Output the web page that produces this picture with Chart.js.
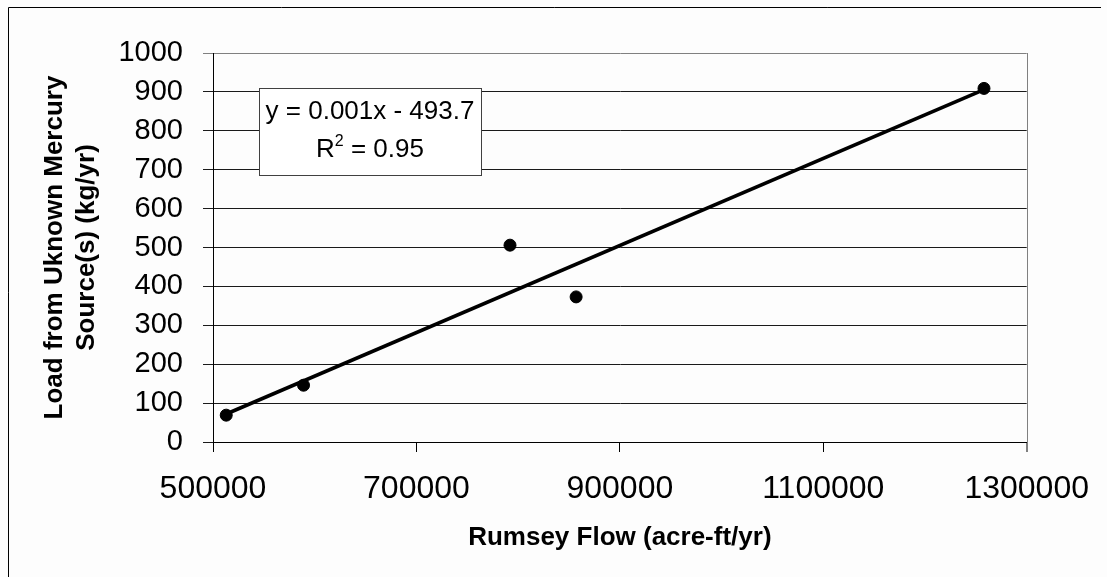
<!DOCTYPE html>
<html>
<head>
    <title>Rumsey Flow vs Unknown Mercury Load</title>
    <style>
        html, body { margin: 0; padding: 0; background: #fdfdfd; }
        #chart-box { width: 1107px; height: 577px; }
    </style>
</head>
<body>
    <div id="chart-box">
        <canvas id="load-chart" width="1107" height="577"></canvas>
    </div>

    <script src="https://cdn.jsdelivr.net/npm/chart.js"></script>

    <script>
        const flowX = [513000, 589000, 792000, 857000, 1258000];
        const loadY = [69, 146, 506, 373, 909];

        // Trendline end points
        const trendX = [513000, 1258000];
        const trendY = [72, 906];

        // Axis ranges
        const xMin = 500000, xMax = 1300000, xStep = 200000;
        const yMin = 0, yMax = 1000, yStep = 100;

        // Texts
        const xTitle = 'Rumsey Flow (acre-ft/yr)';
        const yTitle = ['Load from Uknown Mercury', 'Source(s) (kg/yr)'];
        const eqText = 'y = 0.001x - 493.7';
        const r2Value = '0.95';

        const FONT = '"Liberation Sans", Arial, sans-serif';

        const points = flowX.map((x, i) => ({ x: x, y: loadY[i] }));
        const trend = trendX.map((x, i) => ({ x: x, y: trendY[i] }));

        // Background, outer frame, titles, equation box
        const decorations = {
            id: 'decorations',
            beforeDraw(chart) {
                const ctx = chart.ctx;
                ctx.save();
                ctx.fillStyle = '#fdfdfd';
                ctx.fillRect(0, 0, chart.width, chart.height);
                ctx.strokeStyle = '#000';
                ctx.lineWidth = 1;
                ctx.beginPath();
                ctx.moveTo(8.5, chart.height);
                ctx.lineTo(8.5, 7.5);
                ctx.lineTo(1101, 7.5);
                ctx.stroke();
                ctx.restore();
            },
            beforeDatasetsDraw(chart) {
                // gray right border of the plot area
                const ctx = chart.ctx;
                const a = chart.chartArea;
                ctx.save();
                ctx.strokeStyle = '#808080';
                ctx.lineWidth = 1;
                ctx.beginPath();
                ctx.moveTo(Math.round(a.right) + 0.5, a.top);
                ctx.lineTo(Math.round(a.right) + 0.5, a.bottom + 10);
                ctx.stroke();
                ctx.restore();
            },
            afterDraw(chart) {
                const ctx = chart.ctx;
                const a = chart.chartArea;
                ctx.save();
                ctx.fillStyle = '#000';

                // x axis title
                ctx.font = 'bold 26px ' + FONT;
                ctx.textAlign = 'center';
                ctx.textBaseline = 'alphabetic';
                ctx.fillText(xTitle, (a.left + a.right) / 2, 545);

                // y axis title, two lines
                ctx.save();
                ctx.translate(0, (a.top + a.bottom) / 2);
                ctx.rotate(-Math.PI / 2);
                ctx.fillText(yTitle[0], 0, 62);
                ctx.fillText(yTitle[1], 0, 94);
                ctx.restore();

                // equation box
                const bx = 259, by = 88, bw = 222, bh = 87;
                ctx.fillStyle = '#ffffff';
                ctx.fillRect(bx, by, bw, bh);
                ctx.strokeStyle = '#404040';
                ctx.lineWidth = 1;
                ctx.strokeRect(bx + 0.5, by + 0.5, bw, bh);

                ctx.fillStyle = '#000';
                ctx.font = '26px ' + FONT;
                ctx.textAlign = 'center';
                const cx = bx + bw / 2;
                ctx.fillText(eqText, cx, 119);

                // R² = value
                ctx.textAlign = 'left';
                const big = '26px ' + FONT, small = '16px ' + FONT;
                ctx.font = big;
                const wR = ctx.measureText('R').width;
                const wRest = ctx.measureText(' = ' + r2Value).width;
                ctx.font = small;
                const w2 = ctx.measureText('2').width;
                let x0 = cx - (wR + w2 + wRest) / 2;
                ctx.font = big;
                ctx.fillText('R', x0, 157);
                ctx.font = small;
                ctx.fillText('2', x0 + wR, 146);
                ctx.font = big;
                ctx.fillText(' = ' + r2Value, x0 + wR + w2, 157);
                ctx.restore();
            }
        };

        const ctx = document.getElementById('load-chart').getContext('2d');
        new Chart(ctx, {
            type: 'scatter',
            data: {
                datasets: [
                    {
                        label: 'Load',
                        data: points,
                        backgroundColor: '#000',
                        borderColor: '#000',
                        pointRadius: 6,
                        order: 1
                    },
                    {
                        label: 'Linear trend',
                        type: 'line',
                        data: trend,
                        borderColor: '#000',
                        borderWidth: 3.6,
                        pointRadius: 0,
                        fill: false,
                        order: 2
                    }
                ]
            },
            options: {
                responsive: false,
                animation: false,
                layout: { padding: { top: 53, right: 77, left: 0, bottom: 0 } },
                plugins: {
                    legend: { display: false },
                    tooltip: { enabled: false }
                },
                scales: {
                    x: {
                        type: 'linear',
                        min: xMin,
                        max: xMax,
                        afterFit: scale => { scale.height = 135; },
                        ticks: {
                            stepSize: xStep,
                            color: '#000',
                            padding: 18,
                            maxRotation: 0,
                            font: { family: FONT, size: 32 },
                            callback: v => String(v)
                        },
                        grid: {
                            drawOnChartArea: false,
                            tickLength: 10,
                            color: c => (c.tick && c.tick.value === xMax ? '#808080' : '#000')
                        },
                        border: { color: '#000', width: 1 }
                    },
                    y: {
                        min: yMin,
                        max: yMax,
                        afterFit: scale => { scale.width = 213; },
                        ticks: {
                            stepSize: yStep,
                            color: '#000',
                            padding: 20,
                            font: { family: FONT, size: 29 },
                            callback: v => String(v)
                        },
                        grid: {
                            tickLength: 10,
                            color: c => (c.tick && c.tick.value === yMax ? '#808080' : '#1a1a1a')
                        },
                        border: { color: '#000', width: 1 }
                    }
                }
            },
            plugins: [decorations]
        });
    </script>
</body>
</html>
